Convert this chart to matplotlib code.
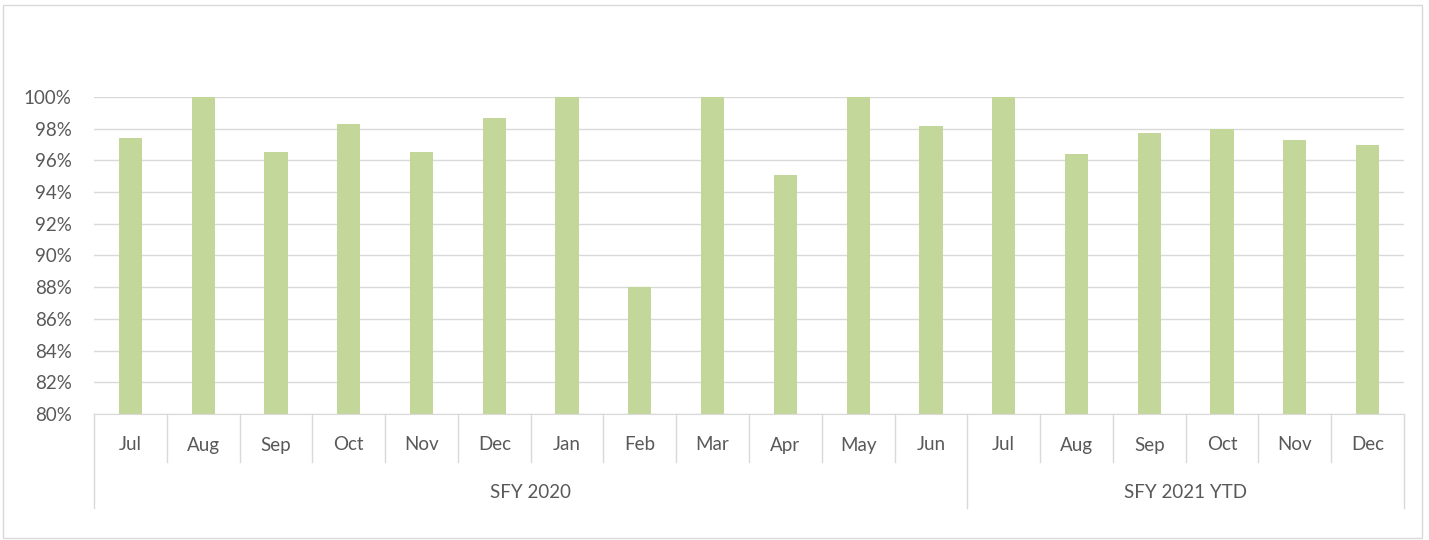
import matplotlib
matplotlib.use("Agg")
import matplotlib.pyplot as plt
from matplotlib.patches import Rectangle
from matplotlib.ticker import FuncFormatter

plt.rcParams['font.family'] = ['Lato', 'DejaVu Sans']

months = ["Jul", "Aug", "Sep", "Oct", "Nov", "Dec", "Jan", "Feb", "Mar", "Apr", "May", "Jun",
          "Jul", "Aug", "Sep", "Oct", "Nov", "Dec"]
values = [97.4, 100.0, 96.5, 98.3, 96.5, 98.7, 100.0, 88.0, 100.0, 95.1, 100.0, 98.2,
          100.0, 96.4, 97.7, 98.0, 97.3, 97.0]
groups = ["SFY 2020", "SFY 2021 YTD"]
group_sizes = [12, 6]

W, H = 1429, 540
FS = 13.5
fig = plt.figure(figsize=(W / 100, H / 100), dpi=100)
fig.patch.set_facecolor("white")

# outer chart border
fig.add_artist(Rectangle((3 / W, 1 - 538 / H), (1422 - 3) / W, (538 - 5) / H,
                         transform=fig.transFigure, fill=False, edgecolor="#D9D9D9", lw=1))

ax = fig.add_axes([94 / W, 1 - 414 / H, (1404 - 94) / W, (414 - 97) / H])
x = list(range(len(months)))
ax.bar(x, values, width=0.32, color="#C4D79B", zorder=2)
ax.set_xlim(-0.5, len(months) - 0.5)
ax.set_ylim(80, 100)
ax.set_yticks(range(80, 101, 2))
ax.yaxis.set_major_formatter(FuncFormatter(lambda v, p: f"{v:.0f}%"))
ax.grid(axis="y", color="#D9D9D9", lw=1, zorder=0)
for s in ["top", "right", "left"]:
    ax.spines[s].set_visible(False)
ax.spines["bottom"].set_color("#D9D9D9")
ax.tick_params(axis="y", length=0, labelsize=FS, labelcolor="#595959", pad=16)
ax.tick_params(axis="x", length=0, labelbottom=False)

trans = ax.get_xaxis_transform()
sep_low = (414 - 462) / (414 - 97)
grp_low = (414 - 508) / (414 - 97)
grp_bounds = [-0.5]
for g in group_sizes:
    grp_bounds.append(grp_bounds[-1] + g)
for i in range(len(months) + 1):
    xb = i - 0.5
    low = grp_low if xb in grp_bounds else sep_low
    ax.plot([xb, xb], [0, low], transform=trans, color="#D9D9D9", lw=1, clip_on=False)
for i, m in enumerate(months):
    ax.text(i, (414 - 445) / (414 - 97), m, transform=trans, ha="center", va="center",
            fontsize=FS, color="#595959")
for gi, g in enumerate(groups):
    c = (grp_bounds[gi] + grp_bounds[gi + 1]) / 2
    ax.text(c, (414 - 492) / (414 - 97), g, transform=trans, ha="center", va="center",
            fontsize=FS, color="#595959")

fig.savefig("out.png", dpi=100)
